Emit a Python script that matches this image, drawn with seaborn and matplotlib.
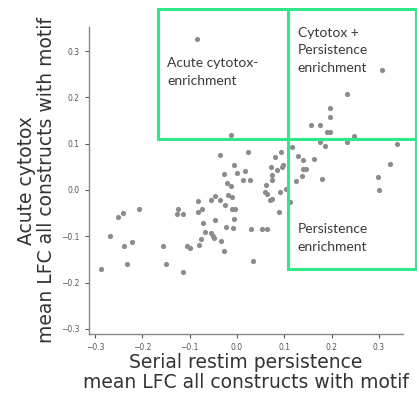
import matplotlib
matplotlib.use("Agg")
import matplotlib.pyplot as plt
from matplotlib.patches import Rectangle
import seaborn as sns
import pandas as pd

# mean LFC per motif
persistence_lfc = [
    -0.287, -0.269, -0.251, -0.242, -0.238, -0.233, -0.222, -0.207, -0.156, -0.151,
    -0.125, -0.127, -0.115, -0.115, -0.105, -0.099, -0.082, -0.083, -0.074, -0.071,
    -0.080, -0.076, -0.068, -0.054, -0.047, -0.047, -0.054, -0.051, -0.049, -0.037,
    -0.035, -0.034, -0.027, -0.025, -0.024, -0.027, -0.021, -0.019, -0.012, -0.010,
    -0.006, -0.011, -0.004, -0.006, -0.008, 0.001, 0.012, 0.016, 0.023, 0.027,
    0.030, 0.034, 0.053, 0.064, 0.061, 0.059, 0.064, 0.069, 0.074, 0.071,
    0.073, 0.075, 0.080, 0.084, 0.090, 0.089, 0.092, 0.096, 0.098, 0.103,
    0.113, 0.124, 0.129, 0.139, 0.138, 0.140, 0.146, 0.163, 0.180, 0.298,
    0.300, 0.323,
    -0.084, -0.012, 0.117, 0.306, 0.232, 0.197, 0.197, 0.156, 0.176, 0.190,
    0.196, 0.248, 0.232, 0.175, 0.186, 0.338,
]
cytotox_lfc = [
    -0.171, -0.100, -0.059, -0.050, -0.120, -0.159, -0.113, -0.041, -0.122, -0.159,
    -0.042, -0.051, -0.051, -0.177, -0.121, -0.125, -0.024, -0.047, -0.041, -0.071,
    -0.119, -0.105, -0.091, -0.022, -0.014, -0.065, -0.093, -0.100, -0.104, 0.075,
    -0.022, -0.111, 0.035, -0.032, -0.080, -0.132, 0.015, -0.011, 0.009, -0.015,
    0.055, -0.040, -0.040, -0.062, -0.082, 0.037, 0.021, 0.042, 0.082, 0.022,
    -0.084, -0.153, -0.084, -0.085, 0.011, -0.004, -0.009, -0.022, -0.020, 0.050,
    0.032, 0.021, 0.071, 0.044, -0.004, -0.047, 0.082, 0.050, 0.053, 0.003,
    -0.027, 0.020, 0.073, 0.065, 0.030, 0.045, 0.046, 0.067, 0.024, 0.029,
    0.000, 0.057,
    0.326, 0.119, 0.093, 0.259, 0.207, 0.178, 0.157, 0.141, 0.141, 0.125,
    0.125, 0.117, 0.104, 0.103, 0.095, 0.100,
]

tick_values = [-0.3, -0.2, -0.1, 0.0, 0.1, 0.2, 0.3]

# quadrant boxes: (x0, y0, x1, y1) in data units, label
region_labels = ["Acute cytotox-\nenrichment",
                 "Cytotox +\nPersistence\nenrichment",
                 "Persistence\nenrichment"]
region_bounds = [(-0.167, 0.110, 0.108, 0.391),
                 (0.108, 0.110, 0.378, 0.391),
                 (0.108, -0.171, 0.378, 0.110)]
label_anchor = [(-0.148, 0.287), (0.128, 0.352), (0.128, -0.072)]

df = pd.DataFrame({"persistence": persistence_lfc, "cytotox": cytotox_lfc})

sns.set_style("ticks")
plt.rcParams["font.family"] = ["DejaVu Sans"]

fig = plt.figure(figsize=(4.17, 3.95), dpi=100)
ax = fig.add_axes([89 / 417, 1 - 334 / 395, (403 - 89) / 417, (334 - 27) / 395])

sns.scatterplot(data=df, x="persistence", y="cytotox", ax=ax,
                color="#8c8c8c", s=14, linewidth=0, zorder=3)

ax.set_xlim(-0.313, 0.351)
ax.set_ylim(-0.311, 0.352)
ax.set_xticks(tick_values)
ax.set_yticks(tick_values)
ax.tick_params(labelsize=5.5, colors="#555555", length=3, width=0.8)
sns.despine(ax=ax)
for side in ["left", "bottom"]:
    ax.spines[side].set_color("#888888")
    ax.spines[side].set_linewidth(1.0)

ax.set_xlabel("Serial restim persistence\nmean LFC all constructs with motif",
              fontsize=13.5, color="#333333", labelpad=1, linespacing=1.05)
ax.set_ylabel("Acute cytotox\nmean LFC all constructs with motif",
              fontsize=13.5, color="#333333", labelpad=4, linespacing=1.05)

for (x0, y0, x1, y1) in region_bounds:
    ax.add_patch(Rectangle((x0, y0), x1 - x0, y1 - y0, fill=False,
                           edgecolor="#2fe889", linewidth=2.2,
                           clip_on=False, zorder=4))

for text, (tx, ty) in zip(region_labels, label_anchor):
    ax.text(tx, ty, text, ha="left", va="top", fontsize=10,
            family=["Lato", "DejaVu Sans"], color="#3a3a3a",
            linespacing=1.55, zorder=5)

fig.savefig("out.png", dpi=100)
